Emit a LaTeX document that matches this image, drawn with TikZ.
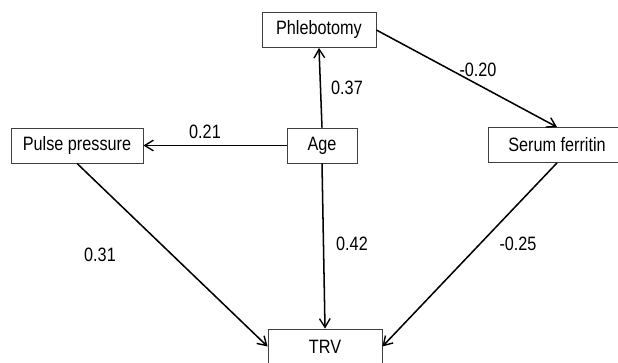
\documentclass[tikz,border=0pt]{standalone}
\usepackage{fontspec}
\setmainfont{Liberation Sans}[FakeStretch=0.84]
\usetikzlibrary{arrows.meta, positioning}
\tikzstyle{block} = [draw=black!75, line width=0.7pt, fill=white, rectangle, minimum height=1.05cm, inner sep=0pt, font=\fontsize{16.5}{19}\selectfont]
\tikzstyle{coef} = [font=\fontsize{16.5}{19}\selectfont, inner sep=0pt]

\begin{document}
\begin{tikzpicture}[x=0.03cm, y=-0.03cm, >={Straight Barb[length=2.6mm, width=3.2mm, line width=1.2pt]}]
  \useasboundingbox (0,0) rectangle (618,362);
  \node[block, minimum width=3.42cm] (phl) at (319,30) {Phlebotomy};
  \node[block, minimum width=3.96cm] (pp) at (77,145.5) {Pulse pressure};
  \node[block, minimum width=2.1cm] (age) at (322,145.5) {Age};
  \node[block, minimum width=4.14cm] (sf) at (557,145) {Serum ferritin};
  \node[block, minimum width=3.42cm] (trv) at (325,346.5) {TRV};

  \node[coef] (c1) at (347,88) {0.37};
  \node[coef] (c2) at (478,70) {-0.20};
  \node[coef] (c3) at (205,132) {0.21};
  \node[coef] (c4) at (100,255) {0.31};
  \node[coef] (c5) at (352,244) {0.42};
  \node[coef] (c6) at (518,244) {-0.25};

  \draw[->, line width=1.3pt] (age.north) -- (phl.south);
  \draw[->, line width=1.3pt] (phl.east) -- (sf.north);
  \draw[->, line width=1.3pt] (age.west) -- (pp.east);
  \draw[->, line width=1.3pt] (age.south) -- (trv.north);
  \draw[->, line width=1.3pt] (pp.south) -- (trv.west);
  \draw[->, line width=1.3pt] (sf.south) -- (trv.east);
\end{tikzpicture}
\end{document}
